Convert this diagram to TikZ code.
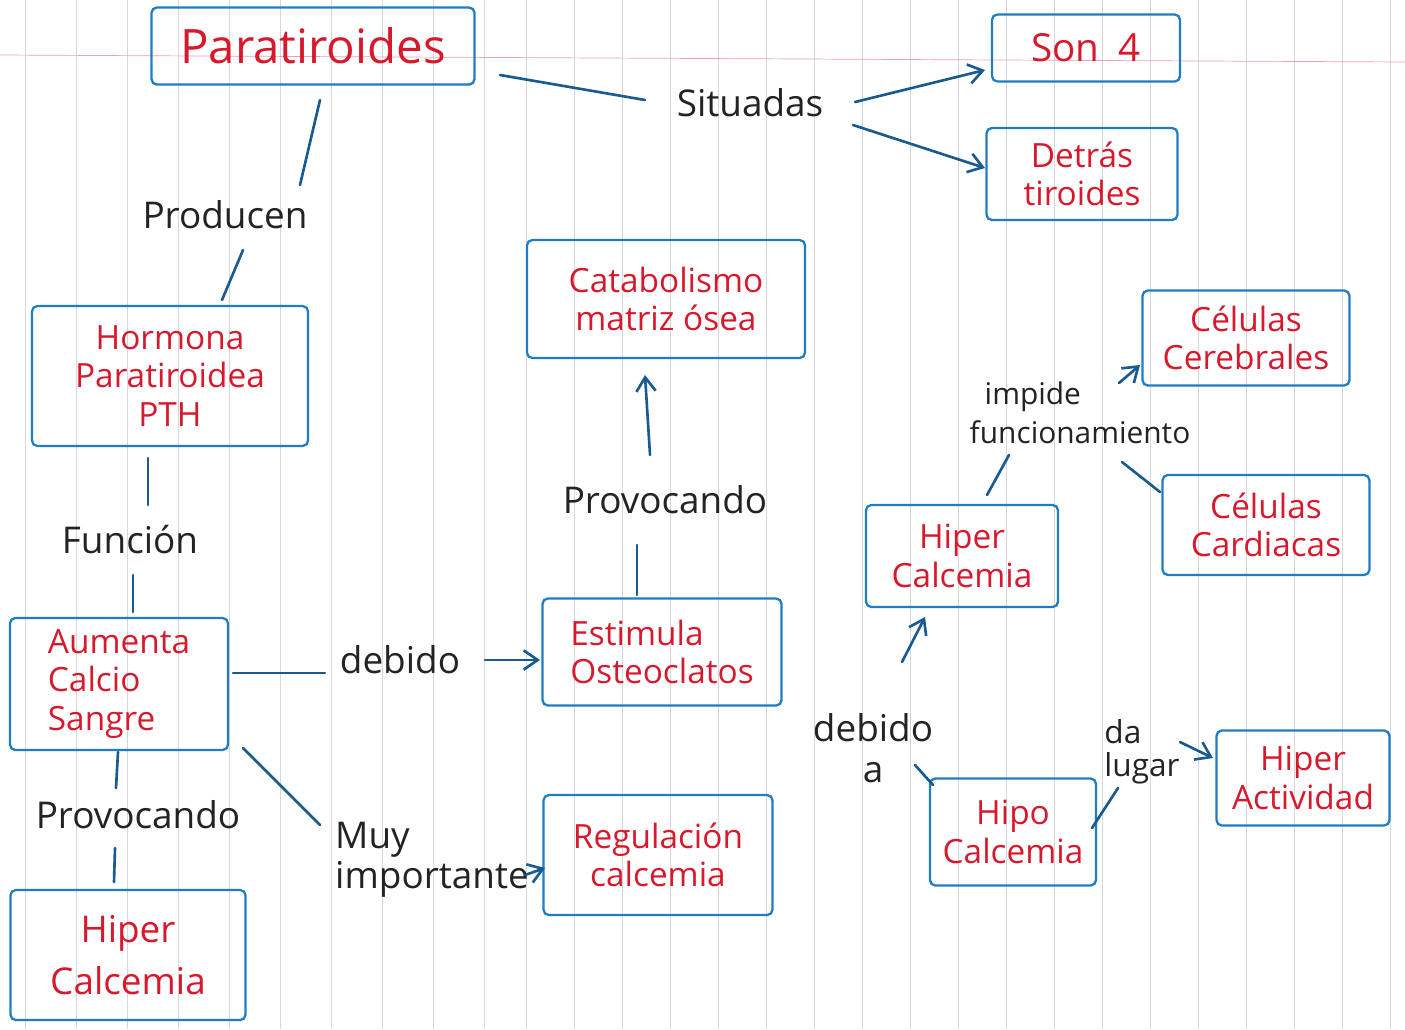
\documentclass[tikz,border=0pt]{standalone}
\usepackage{fontspec}
\setmainfont{Open Sans}
\usepackage{xcolor}
\definecolor{PenBlue}{RGB}{30,125,195}
\definecolor{InkBlue}{RGB}{25,90,145}
\definecolor{PenRed}{RGB}{215,25,45}
\definecolor{PenBlack}{RGB}{35,35,35}
\definecolor{RuleGray}{RGB}{215,215,215}
\definecolor{RulePink}{RGB}{232,160,178}
\usepackage{tikz}
\usetikzlibrary{arrows.meta, calc}

\newcommand{\boxtextfont}{\fontsize{19}{22}\selectfont}
\newcommand{\linktextfont}{\fontsize{21}{23}\selectfont}

\tikzset{
  % Concept box (blue pen, red text)
  concept/.style={
    rectangle, rounded corners=3pt,
    draw=PenBlue, line width=1.3pt,
    text=PenRed, align=center,
    font=\boxtextfont, inner sep=4pt
  },
  % Linking words
  linkword/.style={text=PenBlack, align=center, font=\linktextfont, inner sep=1pt},
  % Connectors
  link/.style={line width=1.5pt, InkBlue, line cap=round},
  arr/.style={link, -{Straight Barb[length=8pt,width=11pt]}},
}

\begin{document}
\begin{tikzpicture}[x=0.02cm, y=-0.02cm]
  \useasboundingbox (0,0) rectangle (1405,1029);

  %% Notebook paper
  \foreach \x in {25,76,...,484} \draw[RuleGray, thin] (\x,0) -- (\x,1029);
  \foreach \x in {526,574,...,1400} \draw[RuleGray, thin] (\x,0) -- (\x,1029);
  \draw[RulePink, thin] (0,55) -- (1405,62);

  %% Concepts
  \node[concept, minimum width=6.46cm, minimum height=1.54cm, font=\fontsize{27}{30}\selectfont] (para) at (313,46) {Paratiroides};
  \node[concept, minimum width=3.76cm, minimum height=1.34cm, font=\fontsize{22}{24}\selectfont] (son) at (1086,48) {Son\enspace 4};
  \node[concept, minimum width=3.82cm, minimum height=1.84cm] (detras) at (1082,174) {Detrás\\tiroides};
  \node[concept, minimum width=5.56cm, minimum height=2.36cm] (catab) at (666,299) {Catabolismo\\matriz ósea};
  \node[concept, minimum width=5.52cm, minimum height=2.8cm] (pth) at (170,376) {Hormona\\Paratiroidea\\PTH};
  \node[concept, minimum width=4.14cm, minimum height=1.9cm] (cereb) at (1246,338) {Células\\Cerebrales};
  \node[concept, minimum width=4.78cm, minimum height=2.14cm, align=left] (estim) at (662,652) {Estimula\\Osteoclatos};
  \node[concept, minimum width=3.84cm, minimum height=2.04cm] (hiperR) at (962,556) {Hiper\\Calcemia};
  \node[concept, minimum width=4.14cm, minimum height=2.0cm] (cardi) at (1266,525) {Células\\Cardiacas};
  \node[concept, minimum width=4.36cm, minimum height=2.64cm, align=left] (aumenta) at (119,684) {Aumenta\\Calcio\\Sangre};
  \node[concept, minimum width=4.58cm, minimum height=2.4cm] (regul) at (658,855) {Regulación\\calcemia};
  \node[concept, minimum width=3.32cm, minimum height=2.14cm] (hipo) at (1013,832) {Hipo\\Calcemia};
  \node[concept, minimum width=3.46cm, minimum height=1.9cm] (activ) at (1303,778) {Hiper\\Actividad};
  \node[concept, minimum width=4.7cm, minimum height=2.6cm, font=\fontsize{21}{30}\selectfont] (hiperL) at (128,955) {Hiper\\Calcemia};

  %% Linking words
  \node[linkword] (producen) at (225,215) {Producen};
  \node[linkword] (situadas) at (750,103) {Situadas};
  \node[linkword] (provocM) at (665,500) {Provocando};
  \node[linkword, align=left, font=\fontsize{17}{22}\selectfont] (impide) at (1080,413) {\hspace{0.3cm}impide\\funcionamiento};
  \node[linkword] (funcion) at (130,540) {Función};
  \node[linkword] (debidoL) at (400,660) {debido};
  \node[linkword] (provocL) at (138,815) {Provocando};
  \node[linkword, align=left] (muy) at (432,860) {Muy\\importante};
  \node[linkword] (debidoa) at (873,748) {debido\\a};
  \node[linkword, align=left, font=\fontsize{18}{19}\selectfont] (dalugar) at (1142,752) {da\\lugar};

  %% Left column
  \draw[link] ($(para)+(7,54)$) -- ($(producen)+(75,-30)$);
  \draw[link] ($(producen)+(18,35)$) -- ($(pth)+(52,-76)$);
  \draw[link] ($(pth)+(-22,82)$) -- ($(funcion)+(18,-35)$);
  \draw[link] ($(funcion)+(3,35)$) -- ($(aumenta)+(14,-72)$);
  \draw[link] ($(aumenta)+(-1,68)$) -- ($(provocL)+(-22,-27)$);
  \draw[link] ($(provocL)+(-23,33)$) -- ($(hiperL)+(-14,-73)$);

  %% Situadas
  \draw[link] ($(para)+(187,29)$) -- ($(situadas)+(-105,-3)$);
  \draw[arr] ($(situadas)+(105,-1)$) -- ($(son)+(-101,22)$);
  \draw[arr] ($(situadas)+(103,22)$) -- ($(detras)+(-97,-6)$);

  %% Middle
  \draw[link] ($(aumenta)+(114,-11)$) -- ($(debidoL)+(-75,13)$);
  \draw[arr] ($(debidoL)+(85,0)$) -- ($(estim)+(-122,8)$);
  \draw[link] ($(aumenta)+(124,64)$) -- ($(muy)+(-112,-35)$);
  \draw[arr] ($(muy)+(93,15)$) -- ($(regul)+(-113,13)$);
  \draw[link] ($(estim)+(-25,-57)$) -- ($(provocM)+(-28,45)$);
  \draw[arr] ($(provocM)+(-15,-45)$) -- ($(catab)+(-21,76)$);

  %% Right side
  \draw[link] ($(hipo)+(-80,-47)$) -- ($(debidoa)+(42,17)$);
  \draw[arr] ($(debidoa)+(29,-86)$) -- ($(hiperR)+(-37,61)$);
  \draw[link] ($(hiperR)+(25,-61)$) -- ($(impide)+(-71,42)$);
  \draw[arr] ($(impide)+(39,-30)$) -- ($(cereb)+(-106,27)$);
  \draw[link] ($(impide)+(42,49)$) -- ($(cardi)+(-106,-33)$);
  \draw[link] ($(hipo)+(79,-4)$) -- ($(dalugar)+(-24,36)$);
  \draw[arr] ($(dalugar)+(38,-10)$) -- ($(activ)+(-90,-20)$);

\end{tikzpicture}
\end{document}
